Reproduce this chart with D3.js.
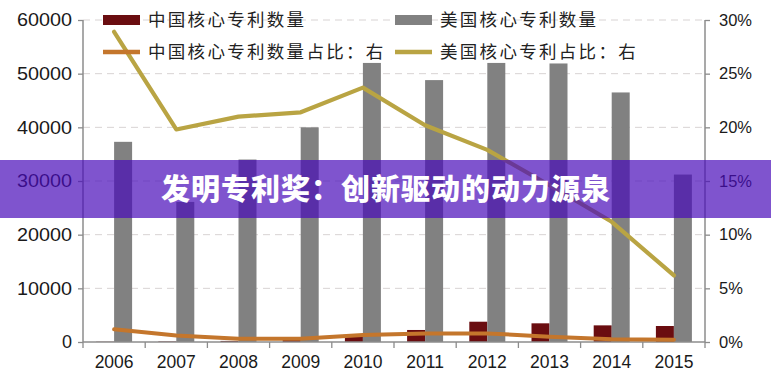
<!DOCTYPE html>
<html><head><meta charset="utf-8">
<script src="https://cdn.jsdelivr.net/npm/d3@7"></script>
<style>body{margin:0;background:#fff}svg{display:block}</style>
</head><body>
<svg id="c" width="771" height="379"></svg>
<script>
const years = ["2006","2007","2008","2009","2010","2011","2012","2013","2014","2015"];
const chinaCount = [50,100,200,400,990,2240,3780,3480,3100,2980];
const usCount = [37300,26100,34000,40000,52000,48800,52000,51900,46500,31200];
const chinaShare = [1.18,0.6,0.3,0.3,0.65,0.8,0.8,0.5,0.25,0.2];
const usShare = [28.9,19.8,21.0,21.4,23.7,20.2,17.9,14.6,11.2,6.2];
const leftTicks = [0,10000,20000,30000,40000,50000,60000];
const rightTicks = [0,5,10,15,20,25,30];
const legendLabels = ["中国核心专利数量","美国核心专利数量","中国核心专利数量占比：右","美国核心专利占比：右"];
const title = "发明专利奖：创新驱动的动力源泉";

const svg = d3.select("#c");
const L = 83, R = 705, T = 20, B = 342;
const x = d3.scaleBand().domain(years).range([L, R]);
const yL = d3.scaleLinear().domain([0, 60000]).range([B, T]);
const yR = d3.scaleLinear().domain([0, 30]).range([B, T]);
const cMaroon = "#6a0d10", cGray = "#818181", cOrange = "#c4762c", cOlive = "#b9a443";
const numFont = "'Liberation Sans', Arial, sans-serif";
const cjk = "'Noto Sans CJK SC', sans-serif";

// grid
svg.append("g").selectAll("line").data(leftTicks.slice(1)).join("line")
  .attr("x1", L).attr("x2", R).attr("y1", d => yL(d)).attr("y2", d => yL(d))
  .attr("stroke", "#d8d3d3").attr("stroke-width", 1).attr("stroke-dasharray", "7,5");

// bars
const bw = 18;
svg.append("g").selectAll("rect").data(years).join("rect")
  .attr("x", (d) => x(d) + x.bandwidth()/2 - bw).attr("width", bw)
  .attr("y", (d,i) => yL(chinaCount[i])).attr("height", (d,i) => B - yL(chinaCount[i]))
  .attr("fill", cMaroon);
svg.append("g").selectAll("rect").data(years).join("rect")
  .attr("x", (d) => x(d) + x.bandwidth()/2).attr("width", bw)
  .attr("y", (d,i) => yL(usCount[i])).attr("height", (d,i) => B - yL(usCount[i]))
  .attr("fill", cGray);

// axes
const ax = svg.append("g").attr("transform", `translate(${L},0)`)
  .call(d3.axisLeft(yL).tickValues(leftTicks).tickFormat(d3.format("d")).tickSize(5).tickPadding(6));
const ar = svg.append("g").attr("transform", `translate(${R},0)`)
  .call(d3.axisRight(yR).tickValues(rightTicks).tickFormat(d => d + "%").tickSize(5).tickPadding(9));
const xb = svg.append("g").attr("transform", `translate(0,${B})`)
  .call(d3.axisBottom(x).tickSize(0).tickPadding(14));
// boundary ticks for x
svg.append("g").selectAll("line").data(years.concat(["end"])).join("line")
  .attr("x1", (d,i) => L + i*x.bandwidth()).attr("x2", (d,i) => L + i*x.bandwidth())
  .attr("y1", B).attr("y2", B + 6).attr("stroke", "#8c8c8c").attr("stroke-width", 1.3);
[ax, ar, xb].forEach(g => {
  g.selectAll("path").attr("stroke", "#8c8c8c").attr("stroke-width", 1.5);
  g.selectAll(".tick line").attr("stroke", "#8c8c8c").attr("stroke-width", 1.3);
  g.selectAll("text").attr("fill", "#1a1a1a").attr("font-family", numFont);
});
ax.select("path").attr("d", `M0,${T}V${B}`);
ar.select("path").attr("d", `M0,${T}V${B}`);
xb.select("path").attr("d", `M${L},0H${R}`);
ax.selectAll("text").attr("font-size", 18).attr("textLength", 55).attr("lengthAdjust","spacingAndGlyphs");
ax.selectAll(".tick").filter(d => d === 0).select("text").attr("textLength", null);
ar.selectAll("text").attr("font-size", 16.5);
xb.selectAll("text").attr("font-size", 17.5);

// lines
const line = yS => d3.line().x((d,i) => x(years[i]) + x.bandwidth()/2).y(d => yS(d));
svg.append("path").datum(chinaShare).attr("d", line(yR)).attr("fill","none")
  .attr("stroke", cOrange).attr("stroke-width", 4).attr("stroke-linejoin","round").attr("stroke-linecap","round");
svg.append("path").datum(usShare).attr("d", line(yR)).attr("fill","none")
  .attr("stroke", cOlive).attr("stroke-width", 4.2).attr("stroke-linejoin","round").attr("stroke-linecap","round");

// legend
const lg = svg.append("g");
const lx = [103, 395], ly = [20, 52];
lg.append("rect").attr("x", lx[0]).attr("y", ly[0]-5).attr("width", 37).attr("height", 10).attr("fill", cMaroon);
lg.append("rect").attr("x", lx[1]).attr("y", ly[0]-5).attr("width", 37).attr("height", 10).attr("fill", cGray);
lg.append("line").attr("x1", lx[0]).attr("x2", lx[0]+37).attr("y1", ly[1]).attr("y2", ly[1]).attr("stroke", cOrange).attr("stroke-width", 4.5);
lg.append("line").attr("x1", lx[1]).attr("x2", lx[1]+37).attr("y1", ly[1]).attr("y2", ly[1]).attr("stroke", cOlive).attr("stroke-width", 4.5);
[[0,0],[1,0],[0,1],[1,1]].forEach(([c,r],k) => {
  lg.append("text").attr("x", lx[c] + 45).attr("y", ly[r]).attr("dy", "0.36em")
    .attr("font-family", cjk).attr("font-size", 17.5).attr("letter-spacing", 2.3)
    .attr("fill", "#222").text(legendLabels[k]);
});

// banner overlay
svg.append("rect").attr("x", 0).attr("y", 160).attr("width", 771).attr("height", 58)
  .attr("fill", "rgb(72,12,185)").attr("opacity", 0.7);
svg.append("text").attr("x", 386).attr("y", 190).attr("dy", "0.36em").attr("text-anchor", "middle")
  .attr("font-family", cjk).attr("font-weight", 900).attr("font-size", 29).attr("letter-spacing", 1)
  .attr("fill", "#fff").text(title);
</script>
</body></html>
